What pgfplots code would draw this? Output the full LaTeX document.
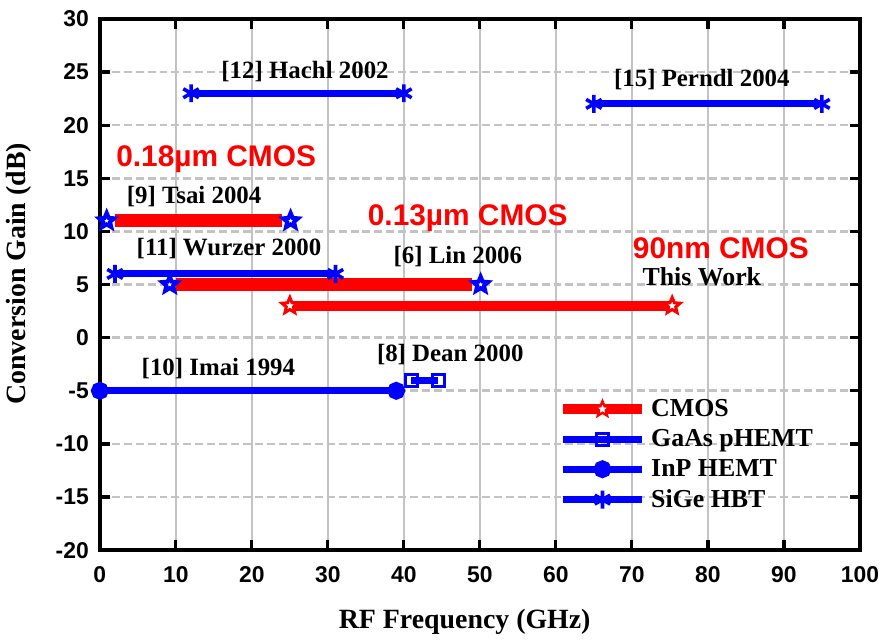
\documentclass[border=0pt]{standalone}
\usepackage{fontspec}
\setmainfont{Liberation Serif}
\newfontfamily\labsans{Liberation Sans}
\usepackage{pgfplots}
\pgfplotsset{compat=1.18}
\definecolor{pred}{RGB}{255,0,0}
\definecolor{pblue}{RGB}{0,0,255}
\definecolor{gridgray}{RGB}{195,195,195}
\pgfdeclareplotmark{fstar}{%
  \pgfpathmoveto{\pgfpointpolar{90}{\pgfplotmarksize}}%
  \pgfpathlineto{\pgfpointpolar{126}{0.45\pgfplotmarksize}}%
  \pgfpathlineto{\pgfpointpolar{162}{\pgfplotmarksize}}%
  \pgfpathlineto{\pgfpointpolar{198}{0.45\pgfplotmarksize}}%
  \pgfpathlineto{\pgfpointpolar{234}{\pgfplotmarksize}}%
  \pgfpathlineto{\pgfpointpolar{270}{0.45\pgfplotmarksize}}%
  \pgfpathlineto{\pgfpointpolar{306}{\pgfplotmarksize}}%
  \pgfpathlineto{\pgfpointpolar{342}{0.45\pgfplotmarksize}}%
  \pgfpathlineto{\pgfpointpolar{18}{\pgfplotmarksize}}%
  \pgfpathlineto{\pgfpointpolar{54}{0.45\pgfplotmarksize}}%
  \pgfpathclose
  \pgfusepathqfillstroke
}
\begin{document}
\begin{tikzpicture}
\begin{axis}[
  scale only axis, width=382pt, height=267pt,
  xmin=0, xmax=100, ymin=-20, ymax=30,
  xtick={0,10,...,100}, ytick={-20,-15,...,30},
  tick align=inside, major tick length=5pt,
  every tick/.style={black, line width=1.6pt},
  axis line style={black, line width=2pt},
  grid=major,
  major x grid style={gridgray, line width=1.3pt},
  major y grid style={gridgray, line width=1.3pt, dash pattern=on 4pt off 2pt},
  /pgf/number format/assume math mode=true,
  ticklabel style={font=\labsans\bfseries\fontsize{11.5}{11.5}\selectfont},
  xticklabel style={inner sep=0.5pt, yshift=-7.5pt},
  yticklabel style={xshift=-2pt},
  xlabel={RF Frequency (GHz)}, ylabel={Conversion Gain (dB)},
  xlabel style={at={(axis description cs:0.48,-0.135)}, anchor=center, font=\bfseries\fontsize{14}{14}\selectfont},
  ylabel style={at={(axis description cs:-0.106,0.52)}, anchor=center, font=\bfseries\fontsize{14}{14}\selectfont},
  legend style={at={(axis description cs:0.594,0.30)}, anchor=north west, draw=none, fill=none,
    font=\bfseries\fontsize{13}{13}\selectfont, row sep=1pt,
    legend cell align=left},
  legend image code/.code={\draw[mark repeat=2,mark phase=2] plot coordinates {(0pt,0pt) (20pt,0pt) (40pt,0pt)};},
  clip=false,
]
% legend entries
\addlegendimage{pred, line width=5pt, mark=fstar, mark size=4pt, mark options={fill=white, draw=pred, line width=1.2pt}}
\addlegendentry{CMOS}
\addlegendimage{pblue, line width=3.5pt, mark=square, mark size=3pt, mark options={fill=white, draw=pblue, line width=1.5pt}}
\addlegendentry{GaAs pHEMT}
\addlegendimage{pblue, line width=3.5pt, mark=*, mark size=2.7pt, mark options={fill=pblue, draw=pblue}}
\addlegendentry{InP HEMT}
\addlegendimage{pblue, line width=3.5pt, mark=asterisk, mark size=4.5pt, mark options={draw=pblue, line width=1.8pt}}
\addlegendentry{SiGe HBT}

% SiGe HBT: [12] Hachl 2002
\addplot[forget plot, pblue, line width=3.5pt, mark=asterisk, mark size=4.5pt, mark options={line width=1.8pt}]
  coordinates {(12,23) (40,23)};
% SiGe HBT: [15] Perndl 2004
\addplot[forget plot, pblue, line width=3.5pt, mark=asterisk, mark size=4.5pt, mark options={line width=1.8pt}]
  coordinates {(65,22) (95,22)};
% SiGe HBT: [11] Wurzer 2000
\addplot[forget plot, pblue, line width=3.5pt, mark=asterisk, mark size=4.5pt, mark options={line width=1.8pt}]
  coordinates {(2,6) (31,6)};
% InP HEMT: [10] Imai 1994
\addplot[forget plot, pblue, line width=3.5pt, mark=*, mark size=2.7pt]
  coordinates {(0,-5) (39,-5)};
% GaAs pHEMT: [8] Dean 2000
\addplot[forget plot, pblue, line width=3.5pt, mark=square, mark size=3pt, mark options={fill=white, line width=1.5pt}]
  coordinates {(41,-4) (44.5,-4)};
% CMOS 0.18um [9] Tsai 2004
\addplot[forget plot, pred, line width=6.5pt] coordinates {(2,11) (24,11)};
\addplot[forget plot, only marks, mark=fstar, mark size=4pt, mark options={fill=white, draw=pblue, line width=2pt}]
  coordinates {(0.9,11) (25.1,11)};
% CMOS 0.13um [6] Lin 2006
\addplot[forget plot, pred, line width=6.5pt] coordinates {(10,5) (49,5)};
\addplot[forget plot, only marks, mark=fstar, mark size=4pt, mark options={fill=white, draw=pblue, line width=2pt}]
  coordinates {(9.2,5) (50.1,5)};
% CMOS 90nm This Work
\addplot[forget plot, pred, line width=5pt, mark=fstar, mark size=4.2pt, mark options={fill=white, draw=pred, line width=1.5pt}]
  coordinates {(25,3) (75.3,3)};

% labels
\node[font=\bfseries\fontsize{12.5}{12.5}\selectfont] at (axis cs:27,25) {[12] Hachl 2002};
\node[font=\bfseries\fontsize{12.5}{12.5}\selectfont] at (axis cs:79.2,24.3) {[15] Perndl 2004};
\node[font=\labsans\bfseries\fontsize{15}{15}\selectfont, text=pred] at (axis cs:15.3,16.8) {0.18\textmu m CMOS};
\node[font=\bfseries\fontsize{12.5}{12.5}\selectfont] at (axis cs:12.4,13.3) {[9] Tsai 2004};
\node[font=\labsans\bfseries\fontsize{15}{15}\selectfont, text=pred] at (axis cs:48.4,11.2) {0.13\textmu m CMOS};
\node[font=\bfseries\fontsize{12.5}{12.5}\selectfont] at (axis cs:17,8.4) {[11] Wurzer 2000};
\node[font=\bfseries\fontsize{12.5}{12.5}\selectfont] at (axis cs:47.1,7.6) {[6] Lin 2006};
\node[font=\labsans\bfseries\fontsize{15}{15}\selectfont, text=pred] at (axis cs:81.7,8.4) {90nm CMOS};
\node[font=\bfseries\fontsize{13}{13}\selectfont] at (axis cs:79.2,5.7) {This Work};
\node[font=\bfseries\fontsize{12.5}{12.5}\selectfont] at (axis cs:15.6,-2.9) {[10] Imai 1994};
\node[font=\bfseries\fontsize{12.5}{12.5}\selectfont] at (axis cs:46.1,-1.6) {[8] Dean 2000};
\end{axis}
\path ([yshift=9.5pt]current axis.north west) -- ([yshift=9.5pt]current axis.north);
\end{tikzpicture}
\end{document}
